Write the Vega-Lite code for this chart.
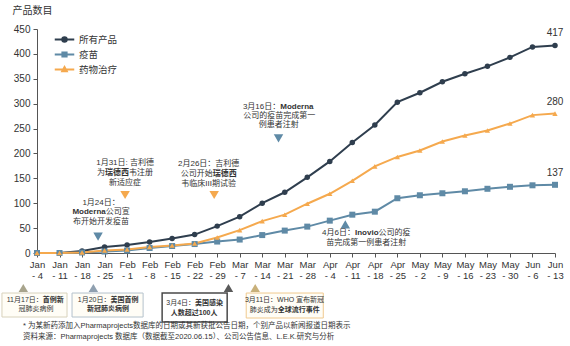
{
"$schema": "https://vega.github.io/schema/vega-lite/v6.json",
"autosize": {"type": "none"},
"width": 518,
"height": 224,
"padding": {"left": 37, "top": 29, "right": 15, "bottom": 93},
"background": "white",
"config": {"font": "Liberation Sans, Noto Sans CJK SC, sans-serif", "view": {"stroke": null}, "axis": {"grid": false}},
"datasets": {
"series": [
{"wk":0,"series":"所有产品","v":0},{"wk":1,"series":"所有产品","v":0},{"wk":2,"series":"所有产品","v":4},{"wk":3,"series":"所有产品","v":12},{"wk":4,"series":"所有产品","v":16},{"wk":5,"series":"所有产品","v":22},{"wk":6,"series":"所有产品","v":29},{"wk":7,"series":"所有产品","v":37},{"wk":8,"series":"所有产品","v":54},{"wk":9,"series":"所有产品","v":73},{"wk":10,"series":"所有产品","v":100},{"wk":11,"series":"所有产品","v":122},{"wk":12,"series":"所有产品","v":152},{"wk":13,"series":"所有产品","v":184},{"wk":14,"series":"所有产品","v":222},{"wk":15,"series":"所有产品","v":257},{"wk":16,"series":"所有产品","v":303},{"wk":17,"series":"所有产品","v":322},{"wk":18,"series":"所有产品","v":344},{"wk":19,"series":"所有产品","v":360},{"wk":20,"series":"所有产品","v":375},{"wk":21,"series":"所有产品","v":393},{"wk":22,"series":"所有产品","v":414},{"wk":23,"series":"所有产品","v":417},
{"wk":0,"series":"疫苗","v":0},{"wk":1,"series":"疫苗","v":0},{"wk":2,"series":"疫苗","v":1},{"wk":3,"series":"疫苗","v":3},{"wk":4,"series":"疫苗","v":5},{"wk":5,"series":"疫苗","v":10},{"wk":6,"series":"疫苗","v":14},{"wk":7,"series":"疫苗","v":18},{"wk":8,"series":"疫苗","v":23},{"wk":9,"series":"疫苗","v":27},{"wk":10,"series":"疫苗","v":36},{"wk":11,"series":"疫苗","v":45},{"wk":12,"series":"疫苗","v":53},{"wk":13,"series":"疫苗","v":65},{"wk":14,"series":"疫苗","v":77},{"wk":15,"series":"疫苗","v":83},{"wk":16,"series":"疫苗","v":110},{"wk":17,"series":"疫苗","v":116},{"wk":18,"series":"疫苗","v":120},{"wk":19,"series":"疫苗","v":124},{"wk":20,"series":"疫苗","v":129},{"wk":21,"series":"疫苗","v":133},{"wk":22,"series":"疫苗","v":136},{"wk":23,"series":"疫苗","v":137},
{"wk":0,"series":"药物治疗","v":0},{"wk":1,"series":"药物治疗","v":0},{"wk":2,"series":"药物治疗","v":1},{"wk":3,"series":"药物治疗","v":5},{"wk":4,"series":"药物治疗","v":7},{"wk":5,"series":"药物治疗","v":12},{"wk":6,"series":"药物治疗","v":15},{"wk":7,"series":"药物治疗","v":19},{"wk":8,"series":"药物治疗","v":31},{"wk":9,"series":"药物治疗","v":46},{"wk":10,"series":"药物治疗","v":64},{"wk":11,"series":"药物治疗","v":77},{"wk":12,"series":"药物治疗","v":99},{"wk":13,"series":"药物治疗","v":119},{"wk":14,"series":"药物治疗","v":145},{"wk":15,"series":"药物治疗","v":174},{"wk":16,"series":"药物治疗","v":193},{"wk":17,"series":"药物治疗","v":206},{"wk":18,"series":"药物治疗","v":224},{"wk":19,"series":"药物治疗","v":236},{"wk":20,"series":"药物治疗","v":246},{"wk":21,"series":"药物治疗","v":260},{"wk":22,"series":"药物治疗","v":277},{"wk":23,"series":"药物治疗","v":280}
]
},
"encoding": {
"x": {"field": "wk", "type": "quantitative", "scale": {"domain": [0, 23], "nice": false, "zero": false},
 "axis": {"title": null, "values": [0,1,2,3,4,5,6,7,8,9,10,11,12,13,14,15,16,17,18,19,20,21,22,23],
 "labelExpr": "split(['Jan|- 4','Jan|- 11','Jan|- 18','Jan|- 25','Feb|- 1','Feb|- 8','Feb|- 15','Feb|- 22','Feb|- 29','Mar|- 7','Mar|- 14','Mar|- 21','Mar|- 28','Apr|- 4','Apr|- 11','Apr|- 18','Apr|- 25','May|- 2','May|- 9','May|- 16','May|- 23','May|- 30','Jun|- 6','Jun|- 13'][datum.value], '|')",
 "labelFontSize": 9.5, "labelLineHeight": 11.5, "labelColor": "#333", "labelPadding": 2, "labelFlush": false, "labelOverlap": false,
 "tickSize": 4, "tickColor": "#555", "domainColor": "#555"}},
"y": {"field": "v", "type": "quantitative", "scale": {"domain": [0, 450], "nice": false},
 "axis": {"title": "产品数目", "titleAngle": 0, "titleAlign": "left", "titleBaseline": "middle", "titleX": -25, "titleY": -19, "titleFontSize": 10, "titleFontWeight": "normal", "titleColor": "#333",
 "values": [0,50,100,150,200,250,300,350,400,450], "labelFontSize": 10, "labelColor": "#333", "labelPadding": 3, "tickSize": 4, "tickColor": "#555", "domainColor": "#555"}}
},
"layer": [
{"data": {"name": "series"}, "mark": {"type": "line", "strokeWidth": 2},
 "encoding": {"color": {"field": "series", "type": "nominal", "scale": {"domain": ["所有产品","疫苗","药物治疗"], "range": ["#2f3e4e","#5f8aa6","#f5a94e"]},
  "legend": {"orient": "none", "legendX": 19, "legendY": 2, "title": null, "labelFontSize": 9.5, "labelColor": "#333", "symbolSize": 225, "labelOffset": 6, "rowPadding": 0, "padding": 0, "symbolStrokeWidth": 2,
   "encode": {"symbols": {"update": {
     "shape": {"signal": "datum.value === '所有产品' ? 'M-1.3,0H1.3M-0.3,0A0.3,0.3 0 1,0 0.3,0A0.3,0.3 0 1,0 -0.3,0Z' : (datum.value === '疫苗' ? 'M-1.3,0H1.3M-0.28,-0.28H0.28V0.28H-0.28Z' : 'M-1.3,0H1.3M0,-0.32L0.3,0.22L-0.3,0.22Z')"},
     "fill": {"scale": "color", "field": "value"}, "stroke": {"scale": "color", "field": "value"}, "strokeWidth": {"value": 2}, "opacity": {"value": 1}}}}}}}},
{"data": {"name": "series"}, "transform": [{"filter": "datum.series === '所有产品'"}], "mark": {"type": "point", "shape": "circle", "filled": true, "opacity": 1, "size": 30},
 "encoding": {"color": {"field": "series", "type": "nominal"}}},
{"data": {"name": "series"}, "transform": [{"filter": "datum.series === '疫苗'"}], "mark": {"type": "point", "shape": "square", "filled": true, "opacity": 1, "size": 36},
 "encoding": {"color": {"field": "series", "type": "nominal"}}},
{"data": {"name": "series"}, "transform": [{"filter": "datum.series === '药物治疗'"}], "mark": {"type": "point", "shape": "triangle-up", "filled": true, "opacity": 1, "size": 28},
 "encoding": {"color": {"field": "series", "type": "nominal"}}},
{"data": {"name": "series"}, "transform": [{"filter": "datum.wk == 23"}], "mark": {"type": "text", "dy": -12, "fontSize": 10, "color": "#333"},
 "encoding": {"text": {"field": "v", "type": "quantitative"}}},
{"data": {"values": [{"wk": 2.711, "v": 33.1, "event": "1月24日"}, {"wk": 10.724, "v": 230.4, "event": "3月16日"}]},
 "mark": {"type": "point", "shape": "triangle-down", "filled": true, "opacity": 1, "size": 90, "color": "#5f8aa6"}},
{"data": {"values": [{"wk": 3.911, "v": 116.5, "event": "1月31日"}, {"wk": 7.867, "v": 116.5, "event": "2月26日"}]},
 "mark": {"type": "point", "shape": "triangle-down", "filled": true, "opacity": 1, "size": 90, "color": "#f5a94e"}},
{"data": {"values": [{"wk": 13.689, "v": 57.7, "event": "4月6日"}]},
 "mark": {"type": "point", "shape": "triangle-up", "filled": true, "opacity": 1, "size": 90, "color": "#5f8aa6"}},
{"data": {"values": [
 {"wk": -1.556, "wk2": 1.333, "v": -80.4, "v2": -128.6, "event": "11月17日"},
 {"wk": 1.556, "wk2": 4.711, "v": -80.4, "v2": -128.6, "event": "1月20日"},
 {"wk": 9.289, "wk2": 12.711, "v": -80.4, "v2": -130.6, "event": "3月11日"}]},
 "mark": {"type": "rect", "fill": "#fffdf6", "strokeWidth": 1},
 "encoding": {"x2": {"field": "wk2"}, "y2": {"field": "v2"},
  "stroke": {"field": "event", "type": "nominal", "scale": {"domain": ["11月17日","1月20日","3月4日","3月11日"], "range": ["#d8d2bc","#b4c2cc","#4a4a4a","#f0c98e"]}, "legend": null}}},
{"data": {"values": [
 {"wk": 5.556, "wk2": 8.444, "v": -80.4, "v2": -138.6, "event": "3月4日"}]},
 "mark": {"type": "rect", "fill": "#ffffff", "strokeWidth": 1.5},
 "encoding": {"x2": {"field": "wk2"}, "y2": {"field": "v2"},
  "stroke": {"field": "event", "type": "nominal", "legend": null}}},
{"data": {"values": [
 {"wk": -0.609, "v": -70.3, "event": "11月17日"},
 {"wk": 2.502, "v": -70.3, "event": "1月20日"},
 {"wk": 8.502, "v": -70.3, "event": "3月4日"},
 {"wk": 9.689, "v": -70.3, "event": "3月11日"}]},
 "mark": {"type": "point", "shape": "triangle-up", "filled": true, "opacity": 1, "size": 90},
 "encoding": {"fill": {"field": "event", "type": "nominal", "scale": {"domain": ["11月17日","1月20日","3月4日","3月11日"], "range": ["#a8a48c","#8fa0b0","#5a5a5a","#c8b07a"]}, "legend": null}}},
{"data": {"values": [
 {"wk": 2.844, "v": 100.4, "t": "1月24日："},
 {"wk": 2.844, "v": 62.3, "t": "布开始开发疫苗"},
 {"wk": 3.911, "v": 180.2, "t": "1月31日: 吉利德"},
 {"wk": 2.844, "v": 160.1, "t": "为"},
 {"wk": 4.622, "v": 160.1, "t": "韦注册"},
 {"wk": 3.911, "v": 140.0, "t": "新适应症"},
 {"wk": 7.622, "v": 178.2, "t": "2月26日：吉利德"},
 {"wk": 7.089, "v": 158.7, "t": "公司开始"},
 {"wk": 7.622, "v": 138.6, "t": "韦临床III期试验"},
 {"wk": 10.756, "v": 275.2, "t": "公司的疫苗完成第一"},
 {"wk": 10.733, "v": 256.5, "t": "例患者注射"},
 {"wk": 14.622, "v": 20.7, "t": "苗完成第一例患者注射"}]},
 "mark": {"type": "text", "align": "center", "baseline": "middle", "fontSize": 8, "color": "#333"},
 "encoding": {"text": {"field": "t"}}},
{"data": {"values": [
 {"wk": 3.556, "v": 160.1, "t": "瑞德西"},
 {"wk": 8.333, "v": 158.7, "t": "瑞德西"}]},
 "mark": {"type": "text", "align": "center", "baseline": "middle", "fontSize": 8, "fontWeight": "bold", "color": "#333"},
 "encoding": {"text": {"field": "t"}}},
{"data": {"values": [{"wk": 3.053, "v": 81.4, "t": "Moderna"}]},
 "mark": {"type": "text", "align": "right", "baseline": "middle", "fontSize": 8, "fontWeight": "bold", "color": "#333"},
 "encoding": {"text": {"field": "t"}}},
{"data": {"values": [
 {"wk": 3.053, "v": 81.4, "t": "公司宣"},
 {"wk": 15.167, "v": 39.6, "t": "公司的疫"}]},
 "mark": {"type": "text", "align": "left", "baseline": "middle", "fontSize": 8, "color": "#333"},
 "encoding": {"text": {"field": "t"}}},
{"data": {"values": [
 {"wk": 10.8, "v": 293.9, "t": "3月16日："},
 {"wk": 14.118, "v": 39.6, "t": "4月6日："}]},
 "mark": {"type": "text", "align": "right", "baseline": "middle", "fontSize": 8, "color": "#333"},
 "encoding": {"text": {"field": "t"}}},
{"data": {"values": [
 {"wk": 10.8, "v": 293.9, "t": "Moderna"},
 {"wk": 14.118, "v": 39.6, "t": "Inovio"}]},
 "mark": {"type": "text", "align": "left", "baseline": "middle", "fontSize": 8, "fontWeight": "bold", "color": "#333"},
 "encoding": {"text": {"field": "t"}}},
{"data": {"values": [
 {"wk": -0.044, "v": -113.5, "t": "冠肺炎病例"},
 {"wk": 10.989, "v": -94.4, "t": "3月11日：WHO 宣布新冠"},
 {"wk": 10.067, "v": -114.5, "t": "肺炎成为"}]},
 "mark": {"type": "text", "align": "center", "baseline": "middle", "fontSize": 7, "color": "#333"},
 "encoding": {"text": {"field": "t"}}},
{"data": {"values": [
 {"wk": 0.258, "v": -94.4, "t": "11月17日："},
 {"wk": 3.26, "v": -94.4, "t": "1月20日："},
 {"wk": 7.018, "v": -99.8, "t": "3月4日："}]},
 "mark": {"type": "text", "align": "right", "baseline": "middle", "fontSize": 7, "color": "#333"},
 "encoding": {"text": {"field": "t"}}},
{"data": {"values": [
 {"wk": 0.258, "v": -94.4, "t": "首例新"},
 {"wk": 3.26, "v": -94.4, "t": "美国首例"},
 {"wk": 7.018, "v": -99.8, "t": "美国感染"}]},
 "mark": {"type": "text", "align": "left", "baseline": "middle", "fontSize": 7, "fontWeight": "bold", "color": "#333"},
 "encoding": {"text": {"field": "t"}}},
{"data": {"values": [
 {"wk": 3.156, "v": -113.5, "t": "新冠肺炎病例"},
 {"wk": 6.978, "v": -121.1, "t": "人数超过100人"},
 {"wk": 11.622, "v": -114.5, "t": "全球流行事件"}]},
 "mark": {"type": "text", "align": "center", "baseline": "middle", "fontSize": 7, "fontWeight": "bold", "color": "#333"},
 "encoding": {"text": {"field": "t"}}},
{"data": {"values": [
 {"wk": -0.622, "v": -146.6, "t": "* 为某新药添加入Pharmaprojects数据库的日期或其新获批公告日期，个别产品以新闻报道日期表示"},
 {"wk": -0.622, "v": -168.7, "t": "资料来源：Pharmaprojects 数据库（数据截至2020.06.15）、公司公告信息、L.E.K.研究与分析"}]},
 "mark": {"type": "text", "align": "left", "baseline": "middle", "fontSize": 7.5, "color": "#333"},
 "encoding": {"text": {"field": "t"}}}
]
}
